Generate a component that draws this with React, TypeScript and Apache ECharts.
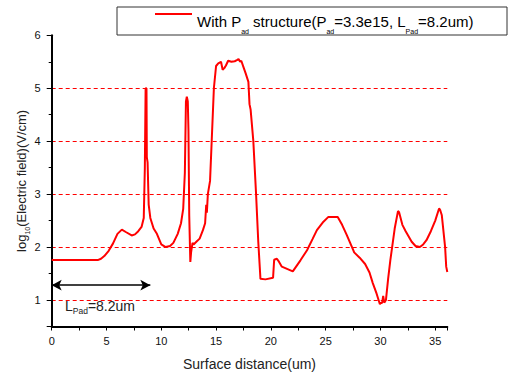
import { useEffect, useRef } from 'react';
import * as echarts from 'echarts';

const distance = [
  0, 4.2, 4.5, 4.8, 5.2, 5.6, 6.0, 6.4, 6.8, 7.3, 7.6, 7.9, 8.2, 8.4, 8.5, 8.57, 8.65, 8.68, 8.75, 8.85,
  9.0, 9.3, 9.6, 10.0, 10.4, 10.8, 11.1, 11.5, 11.8, 12.0, 12.15, 12.25, 12.33, 12.42, 12.48, 12.55, 12.65,
  12.72, 12.85, 12.95, 13.2, 13.5, 13.8, 14.0, 14.1, 14.16, 14.25, 14.45, 14.6, 14.8, 15.0, 15.2, 15.45,
  15.6, 15.75, 15.9, 16.1, 16.4, 16.7, 16.9, 17.05, 17.2, 17.3, 17.5, 17.7, 17.95, 18.05, 18.15, 18.4,
  18.65, 18.85, 19.05, 19.5, 20.2, 20.3, 20.55, 20.75, 21.0, 22.0, 22.7, 23.3, 23.8, 24.2, 24.8, 25.25,
  26.1, 26.5, 26.9, 27.5, 27.6, 28.1, 28.6, 29.0, 29.3, 29.65, 29.95, 30.05, 30.15, 30.25, 30.35, 30.5,
  30.7, 30.9, 31.3, 31.6, 31.7, 32.0, 32.3, 32.85, 33.2, 33.6, 33.9, 34.2, 34.6, 35.0, 35.35, 35.45,
  35.6, 35.9, 36.0, 36.1,
];
const logField = [
  1.755, 1.755, 1.78, 1.83, 1.93, 2.07, 2.25, 2.33, 2.28, 2.22, 2.24, 2.3, 2.38, 2.55, 3.5, 5.0, 5.0, 3.7,
  3.6, 2.8, 2.55, 2.35, 2.25, 2.05, 2.0, 2.02, 2.08, 2.25, 2.45, 2.72, 3.4, 4.75, 4.84, 4.75, 4.2, 2.6,
  1.72, 1.9, 2.08, 2.05, 2.1, 2.16, 2.32, 2.45, 2.8, 2.65, 3.0, 3.25, 4.0, 5.0, 5.42, 5.47, 5.5, 5.35,
  5.38, 5.43, 5.52, 5.5, 5.51, 5.53, 5.55, 5.5, 5.52, 5.4, 5.28, 5.12, 4.7, 4.6, 4.0, 3.0, 2.1, 1.4, 1.39,
  1.42, 1.76, 1.78, 1.72, 1.63, 1.54, 1.75, 1.94, 2.15, 2.32, 2.48, 2.57, 2.57, 2.42, 2.24, 1.95, 1.9,
  1.8, 1.68, 1.52, 1.32, 1.12, 0.92, 0.95, 0.94, 1.08, 0.95, 1.0, 1.4, 1.75, 2.35, 2.68, 2.66, 2.42, 2.3,
  2.1, 2.02, 2.0, 2.05, 2.13, 2.3, 2.5, 2.73, 2.7, 2.6, 2.0, 1.63, 1.53,
];

const seriesName = 'With Pad structure';
const arrowY = 1.28;
const arrowX = [0, 9];
const xMin = 0;
const xMax = 36.1;
const yMin = 0.5;
const yMax = 6;

const FONT = 'Arial, "Liberation Sans", sans-serif';

export default function App() {
  const ref = useRef<HTMLDivElement>(null);
  useEffect(() => {
    document.body.style.margin = '0';
    if (!ref.current) return;
    const chart = echarts.init(ref.current, null, { renderer: 'svg' });
    chart.setOption({
      animation: false,
      backgroundColor: '#fff',
      textStyle: { fontFamily: FONT },
      grid: { left: 51.7, right: 60.7, top: 35.3, bottom: 45.5, containLabel: false, outerBoundsMode: 'none' },
      legend: {
        data: [{ name: seriesName, icon: 'rect' }],
        left: 155,
        top: 6.5,
        padding: 0,
        itemWidth: 37,
        itemHeight: 2,
        itemGap: 5,
        itemStyle: { color: '#ff0000' },
        formatter: () =>
          '{a|With P}{s|ad}{a| structure(P}{s|ad}{a|=3.3e15, L}{s|Pad}{a|=8.2um)}',
        textStyle: {
          rich: {
            a: { fontSize: 15, fontFamily: FONT, color: '#000', lineHeight: 15, padding: [7, 0, 0, 0], verticalAlign: 'top' },
            s: { fontSize: 7, fontFamily: FONT, color: '#000', lineHeight: 8, padding: [21, 0, 0, 0], verticalAlign: 'top' },
          },
        },
      },
      graphic: [
        {
          type: 'rect',
          shape: { x: 117, y: 7, width: 390, height: 28 },
          style: { fill: 'none', stroke: '#333', lineWidth: 1 },
          z: -1,
        },
        {
          type: 'text',
          x: 65,
          y: 299,
          style: {
            text: '{a|L}{s|Pad}{a|=8.2um}',
            align: 'left',
            verticalAlign: 'top',
            rich: {
              a: { fontSize: 14, fontFamily: FONT, fill: '#222', lineHeight: 14, verticalAlign: 'top' },
              s: { fontSize: 8.5, fontFamily: FONT, fill: '#222', lineHeight: 8, padding: [7, 0, 0, 0], verticalAlign: 'top' },
            },
          },
        },
      ],
      xAxis: {
        type: 'value',
        min: xMin,
        max: xMax,
        interval: 5,
        name: 'Surface distance(um)',
        nameLocation: 'middle',
        nameGap: 30,
        nameTextStyle: { fontSize: 14, fontFamily: FONT, color: '#222' },
        axisLine: { lineStyle: { color: '#000', width: 2 } },
        axisTick: { length: 4, lineStyle: { color: '#000', width: 1 } },
        minorTick: { show: true, splitNumber: 2, length: 4, lineStyle: { color: '#000', width: 1 } },
        axisLabel: {
          fontSize: 11,
          fontFamily: FONT,
          color: '#111',
          margin: 9,
          showMaxLabel: false,
          formatter: (v: number) => (v % 5 === 0 ? String(v) : ''),
        },
        splitLine: { show: false },
      },
      yAxis: {
        type: 'value',
        min: yMin,
        max: yMax,
        name: '{a|log}{s|10}{a|(Electric field)(V/cm)}',
        nameLocation: 'middle',
        nameGap: 28,
        nameMoveOverlap: false,
        nameTextStyle: {
          rich: {
            a: { fontSize: 13, fontFamily: FONT, color: '#222', lineHeight: 13, padding: [4, 0, 0, 0], verticalAlign: 'top' },
            s: { fontSize: 7, fontFamily: FONT, color: '#222', lineHeight: 7, padding: [13, 0, 0, 0], verticalAlign: 'top' },
          },
        },
        axisLine: { show: true, lineStyle: { color: '#000', width: 2 } },
        axisTick: { show: true, length: 5, lineStyle: { color: '#000', width: 1 } },
        minorTick: { show: true, splitNumber: 2, length: 3, lineStyle: { color: '#000', width: 1 } },
        axisLabel: {
          fontSize: 11,
          fontFamily: FONT,
          color: '#111',
          margin: 11,
          formatter: (v: number) => (Number.isInteger(v) ? String(v) : ''),
        },
        splitLine: {
          show: true,
          showMinLine: false,
          showMaxLine: false,
          lineStyle: { color: '#ff0000', type: [4, 3], width: 1 },
        },
      },
      series: [
        {
          name: seriesName,
          type: 'line',
          symbol: 'none',
          data: distance.map((d, i) => [d, logField[i]]),
          lineStyle: { color: '#ff0000', width: 2 },
          itemStyle: { color: '#ff0000' },
          markLine: {
            silent: true,
            symbol: ['arrow', 'arrow'],
            symbolSize: [8, 10],
            label: { show: false },
            lineStyle: { color: '#000', width: 1.5, type: 'solid' },
            data: [[{ coord: [arrowX[0], arrowY] }, { coord: [arrowX[1], arrowY] }]],
          },
        },
      ],
    });
    return () => chart.dispose();
  }, []);
  return <div ref={ref} style={{ width: 508, height: 372 }} />;
}
